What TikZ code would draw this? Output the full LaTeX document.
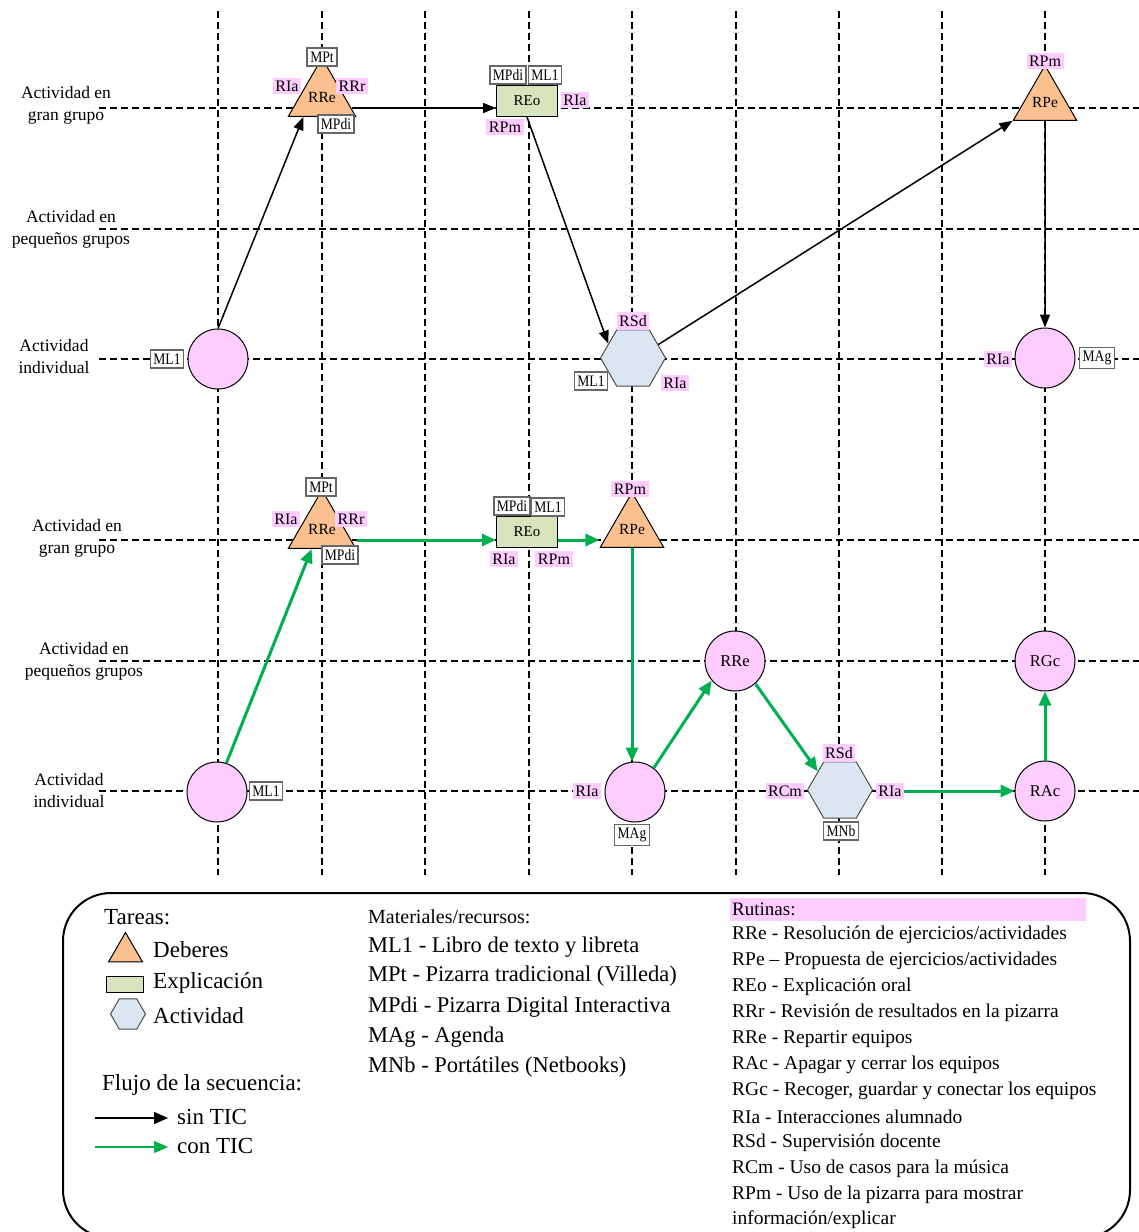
\documentclass[tikz,border=0pt]{standalone}
\usepackage{fontspec}
\setmainfont{Liberation Serif}
\newfontfamily\narrowserif[FakeStretch=0.85]{Liberation Serif}
\usetikzlibrary{arrows.meta,shapes.geometric,calc}

\definecolor{rpink}{HTML}{FFCCFF}
\definecolor{torange}{HTML}{FAC090}
\definecolor{egreen}{HTML}{D7E4BD}
\definecolor{ablue}{HTML}{DCE6F2}
\definecolor{ticgreen}{HTML}{00B050}

\begin{document}
\begin{tikzpicture}[x=1pt,y=-1pt,
  font=\fontsize{15}{18}\selectfont,
  gridline/.style={dash pattern=on 7pt off 4pt, line width=1.2pt},
  rowlabel/.style={align=center, font=\fontsize{17.5}{22}\selectfont, inner sep=0pt},
  routine/.style={circle, draw, line width=1pt, fill=rpink, minimum size=60pt, inner sep=0pt, font=\fontsize{16.5}{18}\selectfont},
  deber/.style={regular polygon, regular polygon sides=3, draw, line width=1pt, fill=torange, minimum size=59pt, inner sep=0pt, font=\fontsize{15.5}{18}\selectfont},
  expl/.style={rectangle, draw, line width=1pt, fill=egreen, minimum width=61pt, minimum height=31pt, inner sep=0pt, font=\fontsize{15}{16}\selectfont},
  activ/.style={regular polygon, regular polygon sides=6, draw=black!70, line width=1pt, fill=ablue, minimum size=65pt, inner sep=0pt},
  rtag/.style={fill=rpink, inner xsep=2.5pt, inner ysep=3pt, font=\fontsize{16}{17}\selectfont},
  mtag/.style={draw=black!60, line width=1.6pt, fill=white, inner xsep=3pt, inner ysep=3.5pt, font=\narrowserif\fontsize{16}{17}\selectfont},
  sinflow/.style={line width=1.5pt, -{Triangle[length=13pt,width=10pt]}},
  conflow/.style={line width=3pt, ticgreen, -{Triangle[length=14pt,width=12pt]}},
  legtext/.style={anchor=west, inner sep=0pt, font=\fontsize{23}{26}\selectfont},
  mattext/.style={anchor=west, inner sep=0pt, font=\fontsize{22.5}{25}\selectfont},
  rutext/.style={anchor=west, inner sep=0pt, font=\fontsize{19.5}{22}\selectfont},
]
\path[use as bounding box] (0,0) rectangle (1139,1232);

% ---------- dashed grid ----------
\foreach \gx in {218,322,425,529,632,736,839,942,1045}
  \draw[gridline] (\gx,11) -- (\gx,875);
\foreach \gy in {108,229,359,540,661,791}
  \draw[gridline] (99,\gy) -- (1139,\gy);
\coordinate (rowA) at (0,108);
\coordinate (rowD) at (0,540);

% ---------- row labels ----------
\node[rowlabel] (lA) at (66,105) {Actividad en\\gran grupo};
\node[rowlabel] (lB) at (71,229) {Actividad en\\pequeños grupos};
\node[rowlabel] (lC) at (54,357) {Actividad\\individual};
\node[rowlabel] (lD) at (77,538) {Actividad en\\gran grupo};
\node[rowlabel] (lE) at (84,661) {Actividad en\\pequeños grupos};
\node[rowlabel] (lF) at (69,791) {Actividad\\individual};

% ---------- sequence without ICT ----------
\node[routine] (c1) at (218,359) {};
\node[mtag] (ml1a) at (167,359) {ML1};

\node[deber] (t1) at (322,97) {RRe};
\node[mtag] (mpt1) at (322,57) {MPt};
\node[rtag] (ria1) at (287,86) {RIa};
\node[rtag] (rrr1) at (352,86) {RRr};
\node[mtag] (mpdi1) at (336,124) {MPdi};

\node[expl] (reo1) at (527,101) {REo};
\node[mtag] (mpdi2) at (508,75) {MPdi};
\node[mtag] (ml1b) at (545,75) {ML1};
\node[rtag] (ria2) at (575,100) {RIa};
\node[rtag] (rpm1) at (505,127) {RPm};

\node[activ] (h1) at (633,358) {};
\node[rtag] (rsd1) at (633,321) {RSd};
\node[mtag] (ml1c) at (591,381) {ML1};
\node[rtag] (ria3) at (675,383) {RIa};

\node[deber] (t2) at (1045,102) {RPe};
\node[rtag] (rpm2) at (1045,61) {RPm};

\node[routine] (c2) at (1045,358) {};
\node[rtag] (ria4) at (998,359) {RIa};
\node[mtag] (mag1) at (1097,358) {MAg};

\draw[sinflow] (c1.north) -- ($(t1.corner 2)!0.23!(t1.corner 3)$);
\draw[sinflow] (t1.corner 3 |- rowA) -- (reo1.west |- rowA);
\draw[sinflow] (reo1.south) -- (h1.150);
\draw[sinflow] (h1.28) -- (t2.corner 2);
\draw[sinflow] (t2.south) -- (c2.north);

% ---------- sequence with ICT ----------
\node[routine] (c3) at (217,792) {};
\node[mtag] (ml1d) at (266,791) {ML1};

\node[deber] (t3) at (322,529) {RRe};
\node[mtag] (mpt2) at (321,487) {MPt};
\node[rtag] (ria5) at (286,519) {RIa};
\node[rtag] (rrr2) at (351,519) {RRr};
\node[mtag] (mpdi3) at (340,555) {MPdi};

\node[expl] (reo2) at (527,532) {REo};
\node[mtag] (mpdi4) at (512,506) {MPdi};
\node[mtag] (ml1e) at (548,507) {ML1};
\node[rtag] (ria6) at (504,559) {RIa};
\node[rtag] (rpm3) at (554,559) {RPm};

\node[deber] (t4) at (632,529) {RPe};
\node[rtag] (rpm4) at (630,489) {RPm};

\node[routine] (c4) at (635,792) {};
\node[rtag] (ria7) at (587,791) {RIa};
\node[mtag] (mag2) at (632,835) {MAg};

\node[routine] (rre) at (735,661) {RRe};

\node[activ] (h2) at (840,790) {};
\node[rtag] (rsd2) at (839,753) {RSd};
\node[rtag] (rcm) at (785,791) {RCm};
\node[rtag] (ria8) at (890,791) {RIa};
\node[mtag] (mnb) at (841,831) {MNb};

\node[routine] (rac) at (1045,791) {RAc};
\node[routine] (rgc) at (1045,661) {RGc};

\draw[conflow] (c3.72) -- ($(t3.corner 2)!0.35!(t3.corner 3)$);
\draw[conflow] (t3.corner 3 |- rowD) -- (reo2.west |- rowD);
\draw[conflow] (reo2.east |- rowD) -- (t4.corner 2 |- rowD);
\draw[conflow] (t4.south) -- (t4.south |- c4.north);
\draw[conflow] (c4.52) -- (rre.220);
\draw[conflow] (rre.-48) -- (h2.140);
\draw[conflow] (ria8.east) -- (rac.west);
\draw[conflow] (rac.north) -- (rgc.south);

% ---------- legend ----------
\draw[line width=2pt, rounded corners=48pt] (63,893) rectangle (1130,1238);

\node[legtext] (tareas) at (104,917) {Tareas:};
\node[regular polygon, regular polygon sides=3, draw, line width=1pt, fill=torange, minimum size=39pt, inner sep=0pt] (lgdeb) at (125.5,952) {};
\node[legtext] (lgdebt) at (153,950) {Deberes};
\node[draw, line width=1pt, fill=egreen, minimum width=37pt, minimum height=16pt, inner sep=0pt] (lgexp) at (124.5,984) {};
\node[legtext] (lgexpt) at (153,983) {Explicación};
\node[regular polygon, regular polygon sides=6, draw=black!70, line width=1pt, fill=ablue, minimum size=35pt, inner sep=0pt] (lgact) at (128,1014) {};
\node[legtext] (lgactt) at (153,1016) {Actividad};

\node[legtext] (flujo) at (102,1085) {Flujo de la secuencia:};
\coordinate (lgs0) at (95,1118);
\coordinate (lgc0) at (95,1147);
\node[legtext] (lgsin) at (177,1117) {sin TIC};
\node[legtext] (lgcon) at (177,1146) {con TIC};
\draw[line width=1.5pt, -{Triangle[length=14pt,width=12pt]}] (lgs0) -- ([xshift=-9pt]lgsin.west |- lgs0);
\draw[line width=1.5pt, ticgreen, -{Triangle[length=14pt,width=12pt]}] (lgc0) -- ([xshift=-9pt]lgcon.west |- lgc0);

\node[anchor=west, inner sep=0pt, font=\fontsize{20}{23}\selectfont] (mat) at (368,917) {Materiales/recursos:};
\node[mattext] (m1) at (368,947) {ML1 - Libro de texto y libreta};
\node[mattext] (m2) at (368,976) {MPt - Pizarra tradicional (Villeda)};
\node[mattext] (m3) at (368,1007) {MPdi - Pizarra Digital Interactiva};
\node[mattext] (m4) at (368,1037) {MAg - Agenda};
\node[mattext] (m5) at (368,1067) {MNb - Portátiles (Netbooks)};

\node[fill=rpink, anchor=north west, minimum height=23pt, text width=352pt, inner xsep=2pt, inner ysep=0pt, align=left, font=\fontsize{19}{22}\selectfont] (rut) at (730,898) {Rutinas:};
\node[rutext] (r1) at (732,935) {RRe - Resolución de ejercicios/actividades};
\node[rutext] (r2) at (732,961) {RPe – Propuesta de ejercicios/actividades};
\node[rutext] (r3) at (732,987) {REo - Explicación oral};
\node[rutext] (r4) at (732,1013) {RRr - Revisión de resultados en la pizarra};
\node[rutext] (r5) at (732,1039) {RRe - Repartir equipos};
\node[rutext] (r6) at (732,1065) {RAc - Apagar y cerrar los equipos};
\node[rutext] (r7) at (732,1091) {RGc - Recoger, guardar y conectar los equipos};
\node[rutext] (r8) at (732,1117) {RIa - Interacciones alumnado};
\node[rutext] (r9) at (732,1143) {RSd - Supervisión docente};
\node[rutext] (r10) at (732,1169) {RCm - Uso de casos para la música};
\node[rutext] (r11) at (732,1195) {RPm - Uso de la pizarra para mostrar};
\node[rutext] (r12) at (732,1220) {información/explicar};
\end{tikzpicture}
\end{document}
